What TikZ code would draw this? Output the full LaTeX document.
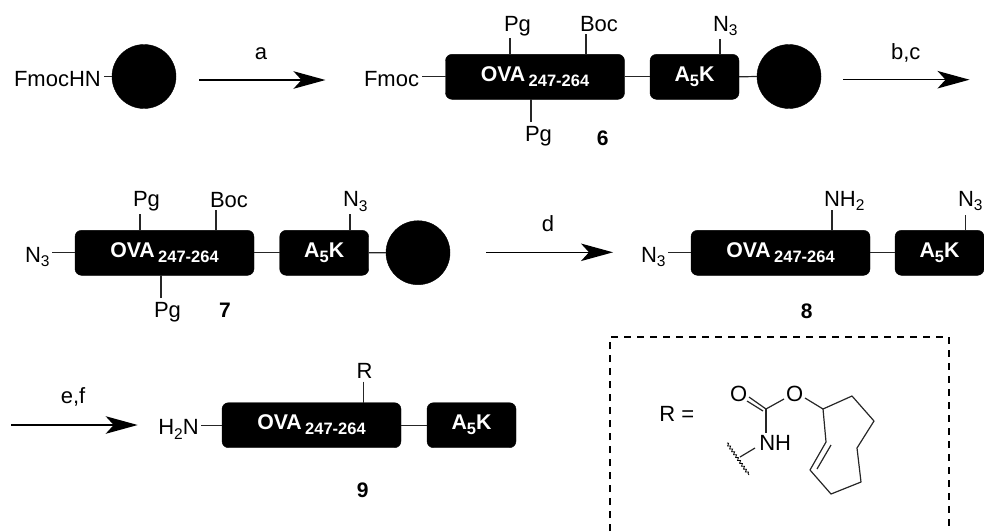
\documentclass[tikz,border=0pt]{standalone}
\usepackage{fontspec}
\setmainfont{Liberation Sans}
\usetikzlibrary{arrows.meta,decorations.pathmorphing}
\newcommand{\ovatxt}{\fontsize{21.3}{21}\bfseries\selectfont OVA\hspace{3.3pt}\raisebox{-5pt}{\fontsize{16.5}{17}\selectfont 247-264}}
\newcommand{\aktxt}{\fontsize{21.3}{21}\bfseries\selectfont A\raisebox{-5pt}{\fontsize{16.5}{17}\selectfont 5}K}
\newcommand{\subs}[1]{\raisebox{-4.5pt}{\fontsize{15.5}{17}\selectfont #1}}
\tikzset{
  blk/.style={fill=black,draw=black,rounded corners=6.5pt,text=white,minimum height=45pt,inner sep=0pt,outer sep=0pt,text height=14pt,text depth=5pt},
  ovabox/.style={blk,minimum width=179pt},
  akbox/.style={blk,minimum width=89pt},
  bead/.style={circle,fill=black,draw=black,minimum size=64pt,inner sep=0pt,outer sep=0pt},
  lab/.style={inner sep=0pt,outer sep=0pt,anchor=base west,font=\fontsize{22}{22}\selectfont},
  labc/.style={lab,anchor=base},
  cpd/.style={inner sep=0pt,anchor=base,font=\fontsize{21}{22}\bfseries\selectfont},
  bond/.style={line width=1.2pt,draw=black!85},
  rxn/.style={line width=1.3pt,-{Stealth[length=32pt,width=17.5pt,inset=8pt]}},
  rxnb/.style={rxn,line width=1.8pt}
}
\begin{document}
\begin{tikzpicture}[x=1pt,y=-1pt]
\useasboundingbox (0,0) rectangle (984,531);
% row 1
\node[lab] (fmhn) at (14,86) {FmocHN};
\node[bead] (c1) at (144,76.5) {};
\coordinate (c1b) at (104,76.5);
\draw[bond] (c1b) -- (c1.west);
\coordinate (a1s) at (199,80); \coordinate (a1e) at (325.5,80);
\draw[rxnb] (a1s) -- (a1e);
\node[labc] (la) at (261,59.5) {a};
\node[lab] (fm) at (364,86) {Fmoc};
\node[ovabox] (o1) at (535,76.8) {\ovatxt};
\node[akbox] (k1) at (694.5,76.8) {\aktxt};
\node[bead] (c2) at (789,76.5) {};
\coordinate (fmb) at (422,76.8);
\draw[bond] (fmb) -- (o1.west);
\draw[bond] (o1.east) -- (k1.west);
\draw[bond] (k1.east) -- (c2.west);
\node[lab] (pg1) at (504,31.5) {Pg};
\coordinate (pg1b) at (510,38);
\draw[bond] (pg1b) -- (pg1b |- o1.north);
\node[lab] (boc1) at (580,31) {Boc};
\coordinate (boc1b) at (586,34);
\draw[bond] (boc1b) -- (boc1b |- o1.north);
\node[lab] (n1) at (713,31) {N\subs{3}};
\coordinate (n1b) at (720,39);
\draw[bond] (n1b) -- (n1b |- k1.north);
\node[lab] (pg2) at (525,141.7) {Pg};
\coordinate (pg2b) at (531,122);
\draw[bond] (pg2b) -- (pg2b |- o1.south);
\node[cpd] (n6) at (602.7,145) {6};
\coordinate (a2s) at (843,79.7); \coordinate (a2e) at (969.5,79.7);
\draw[rxn] (a2s) -- (a2e);
\node[labc] (lbc) at (905.7,59.5) {b,c};
% row 2
\node[lab] (n2l) at (25,262) {N\subs{3}};
\node[ovabox] (o2) at (164.5,252.8) {\ovatxt};
\node[akbox] (k2) at (324.2,252.8) {\aktxt};
\node[bead] (c3) at (418,252.7) {};
\coordinate (n2b) at (52,252.8);
\draw[bond] (n2b) -- (o2.west);
\draw[bond] (o2.east) -- (k2.west);
\draw[bond] (k2.east) -- (c3.west);
\node[lab] (pg3) at (133,206.7) {Pg};
\coordinate (pg3b) at (140,214);
\draw[bond] (pg3b) -- (pg3b |- o2.north);
\node[lab] (boc2) at (210,207) {Boc};
\coordinate (boc2b) at (216,210);
\draw[bond] (boc2b) -- (boc2b |- o2.north);
\node[lab] (n3) at (343,206.7) {N\subs{3}};
\coordinate (n3b) at (350,214);
\draw[bond] (n3b) -- (n3b |- k2.north);
\node[lab] (pg4) at (154,317.7) {Pg};
\coordinate (pg4b) at (161,298);
\draw[bond] (pg4b) -- (pg4b |- o2.south);
\node[cpd] (n7) at (225,317.7) {7};
\coordinate (a3s) at (486,252.3); \coordinate (a3e) at (613,252.3);
\draw[rxn] (a3s) -- (a3e);
\node[labc] (ld) at (548,231) {d};
% row 3
\node[lab] (n4l) at (641,262.3) {N\subs{3}};
\node[ovabox] (o3) at (780.5,252.8) {\ovatxt};
\node[akbox] (k3) at (939.5,252.8) {\aktxt};
\coordinate (n4b) at (668,252.8);
\draw[bond] (n4b) -- (o3.west);
\draw[bond] (o3.east) -- (k3.west);
\node[lab] (nh2) at (824,206) {NH\subs{2}};
\coordinate (nh2b) at (832,210);
\draw[bond] (nh2b) -- (nh2b |- o3.north);
\node[lab] (n5) at (958,206) {N\subs{3}};
\coordinate (n5b) at (965.7,215);
\draw[bond] (n5b) -- (n5b |- k3.north);
\node[cpd] (n8) at (806.7,318.3) {8};
% row 4
\coordinate (a4s) at (11,425); \coordinate (a4e) at (137.7,425);
\draw[rxnb] (a4s) -- (a4e);
\node[labc] (lef) at (73,403) {e,f};
\node[lab] (h2n) at (158.3,434.5) {H\subs{2}N};
\node[ovabox] (o4) at (311.5,425.2) {\ovatxt};
\node[akbox] (k4) at (471.5,425.2) {\aktxt};
\coordinate (h2nb) at (201,425.2);
\draw[bond] (h2nb) -- (o4.west);
\draw[bond] (o4.east) -- (k4.west);
\node[lab] (r0) at (356.5,378.3) {R};
\coordinate (r0b) at (363.7,381.7);
\draw[bond] (r0b) -- (r0b |- o4.north);
\node[cpd] (n9) at (362.6,497.3) {9};
% dashed frame
\coordinate (fa) at (610,531); \coordinate (fb) at (610,337); \coordinate (fc) at (949,337); \coordinate (fd) at (949,531);
\draw[line width=1.1pt,dash pattern=on 7pt off 6pt] (fa) -- (fb) -- (fc) -- (fd);
% R group
\node[lab] (req) at (659.3,421.7) {R =};
\node[lab] (oa) at (730,401.7) {O};
\node[lab] (ob) at (786,401) {O};
\node[lab] (nh) at (759.3,450.7) {NH};
\coordinate (cc) at (766,409);
\coordinate (r1) at (823,409); \coordinate (r2) at (852,396); \coordinate (r3) at (874,421);
\coordinate (r4) at (857,448); \coordinate (r5) at (861,482); \coordinate (r6) at (831,494);
\coordinate (r7) at (810,470); \coordinate (r8) at (826,442);
\coordinate (d1) at (817,469); \coordinate (d2) at (831,445);
\coordinate (w1) at (727,443); \coordinate (w2) at (749,475); \coordinate (w3) at (740,457); \coordinate (w4) at (755,448);
\coordinate (ca) at (749,397); \coordinate (cb) at (747,401); \coordinate (cd) at (763,411);
\coordinate (oe) at (784,399); \coordinate (of) at (805,398); \coordinate (ng) at (766,433);
\draw[bond] (cc) -- (ca) (cd) -- (cb);
\draw[bond] (cc) -- (oe);
\draw[bond] (of) -- (r1);
\draw[bond] (cc) -- (ng);
\draw[bond,line join=round] (r1) -- (r2) -- (r3) -- (r4) -- (r5) -- (r6) -- (r7) -- (r8) -- cycle;
\draw[bond] (d1) -- (d2);
\draw[bond] (w3) -- (w4);
\draw[line width=0.8pt,decorate,decoration={snake,amplitude=1.2pt,segment length=3.5pt}] (w1) -- (w2);
\end{tikzpicture}
\end{document}
